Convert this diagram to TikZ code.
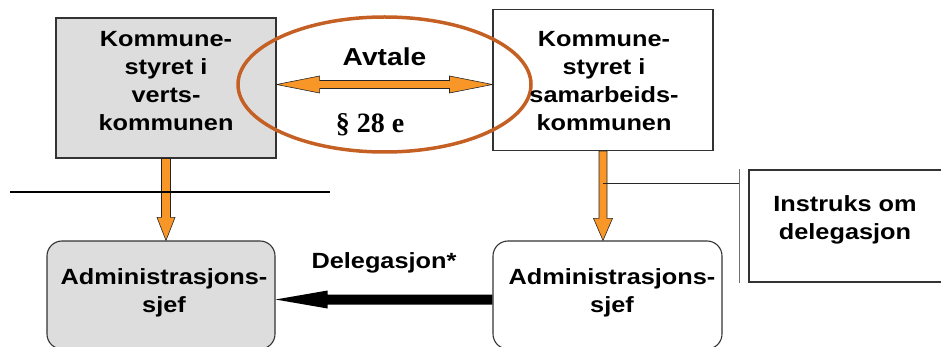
\documentclass[tikz,border=0pt]{standalone}
\usepackage{fontspec}
\setmainfont{Liberation Sans}[FakeStretch=1.15]
\newfontfamily\timesfont{Liberation Serif}
\usetikzlibrary{calc,shapes.geometric}
\definecolor{boxgray}{RGB}{221,221,221}
\definecolor{arroworange}{RGB}{248,150,40}
\definecolor{ringbrown}{RGB}{197,96,36}
\tikzset{
  box/.style={draw=black!80, line width=1.1pt, inner sep=0pt},
  lbl/.style={font=\fontsize{22}{28}\selectfont\bfseries, align=center, inner sep=0pt},
  oarrow/.style={fill=arroworange, draw=black!85, line width=0.6pt, line join=miter},
  thinline/.style={draw=black!85, line width=0.8pt},
}
\begin{document}
\begin{tikzpicture}[x=1pt,y=-1pt]
\useasboundingbox (0,0) rectangle (941,347);
% boxes
\node[box, fill=boxgray, minimum width=220pt, minimum height=140pt] (k1) at (166,88) {};
\node[box, fill=white, minimum width=220pt, minimum height=141pt] (k2) at (603,80) {};
\node[box, fill=boxgray, rounded corners=15pt, minimum width=228pt, minimum height=108pt] (a1) at (161,295) {};
\node[box, fill=white, rounded corners=15pt, minimum width=229pt, minimum height=108pt] (a2) at (607.5,295) {};
\node[box, fill=white, minimum width=193pt, minimum height=112pt] (ins) at (845.5,226) {};
% ring
\node[ellipse, draw=ringbrown, line width=3.5pt, inner sep=0pt, minimum width=293pt, minimum height=135pt] (ring) at (384.5,84.5) {};
% texts
\node[lbl] (k1t) at (166,80.6) {Kommune-\\styret i\\verts-\\kommunen};
\node[lbl] (k2t) at (604,80.6) {Kommune-\\styret i\\samarbeids-\\kommunen};
\node[lbl] (a1t) at (164,293.3) {Administrasjons-\\sjef};
\node[lbl] (a2t) at (612,293.3) {Administrasjons-\\sjef};
\node[lbl] (inst) at (845,220.3) {Instruks om\\delegasjon};
\node[font=\fontsize{24.5}{28}\selectfont\bfseries, inner sep=0pt] (avt) at (384.5,57) {Avtale};
\node[font=\timesfont\fontsize{28}{28}\selectfont\bfseries, inner sep=0pt, anchor=base] (par) at (370,133) {\S\ 28 e};
\node[lbl, anchor=base] (del) at (384,268) {Delegasjon*};
% double arrow
\coordinate (L) at (k1.east |- ring.center);
\coordinate (R) at (k2.west |- ring.center);
\draw[oarrow] (L) -- ($(L)+(43,-8.5)$) -- ($(L)+(43,-4)$) -- ($(R)+(-43,-4)$) -- ($(R)+(-43,-8.5)$) -- (R)
  -- ($(R)+(-43,8.5)$) -- ($(R)+(-43,4)$) -- ($(L)+(43,4)$) -- ($(L)+(43,8.5)$) -- cycle;
% down arrow left
\coordinate (T1) at (k1.south);
\coordinate (B1) at (k1.south |- a1.north);
\draw[oarrow] ($(T1)+(-4.5,0)$) -- ($(B1)+(-4.5,-23)$) -- ($(B1)+(-9,-23)$) -- (B1) -- ($(B1)+(9,-23)$) -- ($(B1)+(4.5,-23)$) -- ($(T1)+(4.5,0)$) -- cycle;
% down arrow right
\coordinate (T2) at (k2.south);
\coordinate (B2) at (k2.south |- a2.north);
\draw[oarrow] ($(T2)+(-4,0)$) -- ($(B2)+(-4,-22)$) -- ($(B2)+(-9.5,-22)$) -- (B2) -- ($(B2)+(9.5,-22)$) -- ($(B2)+(4,-22)$) -- ($(T2)+(4,0)$) -- cycle;
% delegation arrow
\coordinate (DL) at ($(a1.east)+(0,4.5)$);
\coordinate (DR) at ($(a2.west)+(0,4.5)$);
\fill[black] (DL) -- ($(DL)+(52,-9)$) -- ($(DL)+(52,-5)$) -- ($(DR)+(0,-5)$) -- ($(DR)+(0,5)$) -- ($(DL)+(52,5)$) -- ($(DL)+(52,9)$) -- cycle;
% instruction link
\coordinate (tap) at ($(k2.south)+(0,32)$);
\coordinate (barT) at ($(ins.north west)+(-9,0)$);
\coordinate (barB) at ($(ins.south west)+(-9,0)$);
\draw[thinline] (tap) -- (tap -| barT);
\draw[draw=black!55, line width=1.3pt] (barT) -- (barB);
% divider
\coordinate (h1) at (10,192);
\coordinate (h2) at (330,192);
\draw[line width=1.5pt] (h1) -- (h2);
\end{tikzpicture}
\end{document}
